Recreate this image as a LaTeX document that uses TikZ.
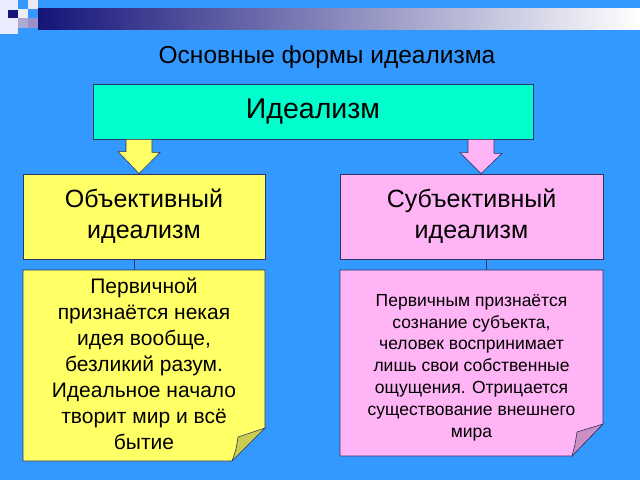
\documentclass[tikz,border=0pt]{standalone}
\usepackage{fontspec}
\setmainfont{Liberation Sans}
\usetikzlibrary{positioning}
\definecolor{slideblue}{HTML}{3399FF}
\definecolor{barnavy}{HTML}{14147A}
\definecolor{barlav}{HTML}{9A92C8}
\definecolor{idealteal}{HTML}{00FFCC}
\definecolor{objyellow}{HTML}{FFFF66}
\definecolor{objfold}{HTML}{CCCC50}
\definecolor{subpink}{HTML}{FFB5F5}
\definecolor{subfold}{HTML}{CC8FC4}
\definecolor{edgeblue}{HTML}{2E3566}

\begin{document}
\begin{tikzpicture}[x=1pt, y=-1pt,
    box/.style={draw=edgeblue, line width=0.8pt, rectangle, inner sep=0pt, align=center},
    note/.style={rectangle, inner sep=0pt, align=center},
    blockarrow/.style={draw=edgeblue, line width=0.6pt}]
                        \useasboundingbox (0,0) rectangle (640,480);
                        \fill[slideblue] (0,0) rectangle (640,480);

                        % corner squares and bar
                        \shade[left color=barnavy, middle color=barlav, right color=white] (38,8) rectangle (640,29);
                        \fill[white!92!blue] (0,0) rectangle (18,34);
                        \fill[white!80!barlav] (28,0) rectangle (38,9);
                        \fill[white!85!barlav] (18,9) rectangle (28,18);
                        \fill[barnavy] (8,10) rectangle (18,18);
                        \fill[barlav!80!white] (18,18) rectangle (28,28);
                        \fill[barlav] (28,18) rectangle (38,28);

                        \node[font=\fontsize{24.5}{29}\selectfont] (title) at (327,57) {Основные формы идеализма};

                        \node[box, fill=idealteal, minimum width=440, minimum height=55,
                            font=\fontsize{28.5}{34}\selectfont] (ideal) at (313,111.5) {Идеализм};
                        \node[box, fill=objyellow, minimum width=242, minimum height=85,
                            font=\fontsize{25}{31}\selectfont] (objbox) at (144,216.5) {Объективный\\ идеализм};
                        \node[box, fill=subpink, minimum width=263, minimum height=85,
                            font=\fontsize{25}{31}\selectfont] (subbox) at (471.5,216.5) {Субъективный\\ идеализм};

                        % notes with folded corner
                        \draw[fill=objyellow, draw=edgeblue, line width=0.6pt]
                            (23,270) -- (265,270) -- (265,428) -- (232,461) -- (23,461) -- cycle;
                        \draw[fill=objfold, draw=edgeblue, line width=0.6pt]
                            (265,428) -- (232,461) .. controls (236,450) .. (238,437) -- cycle;
                        \draw[fill=subpink, draw=edgeblue, line width=0.6pt]
                            (340,270) -- (603,270) -- (603,424) -- (572,456) -- (340,456) -- cycle;
                        \draw[fill=subfold, draw=edgeblue, line width=0.6pt]
                            (603,424) -- (572,456) .. controls (575,445) .. (577,432) -- cycle;

                        \node[note, minimum width=242, minimum height=191] (objnote) at (144,365.5) {};
                        \node[note, font=\fontsize{21}{26}\selectfont] (objtext) at (144,363.5)
                            {Первичной\\ признаётся некая\\ идея вообще,\\ безликий разум.\\ Идеальное начало\\ творит мир и всё\\ бытие};
                        \node[note, minimum width=263, minimum height=186] (subnote) at (471.5,363) {};
                        \node[note, font=\fontsize{17.5}{21.8}\selectfont] (subtext) at (471.5,367.5)
                            {Первичным признаётся\\ сознание субъекта,\\ человек воспринимает\\ лишь свои собственные\\ ощущения. Отрицается\\ существование внешнего\\ мира};

                        \draw[blockarrow, fill=objyellow]
                            (ideal.south -| 126,0) -- ++(26,0) -- ++(0,13) -- ++(8,0) -- (objbox.north -| 139,0) -- ++(-21,-22) -- ++(8,0) -- cycle;
                        \draw[blockarrow, fill=subpink]
                            (ideal.south -| 468,0) -- ++(26,0) -- ++(0,14) -- ++(8,0) -- (subbox.north -| 481,0) -- ++(-21,-21) -- ++(8,0) -- cycle;

                        \draw[edgeblue, line width=0.5pt]
                        ([xshift=-10]objbox.south) -- ([xshift=-10]objnote.north)
                        ([xshift=15]subbox.south) -- ([xshift=15]subnote.north);
                    \end{tikzpicture}
\end{document}
